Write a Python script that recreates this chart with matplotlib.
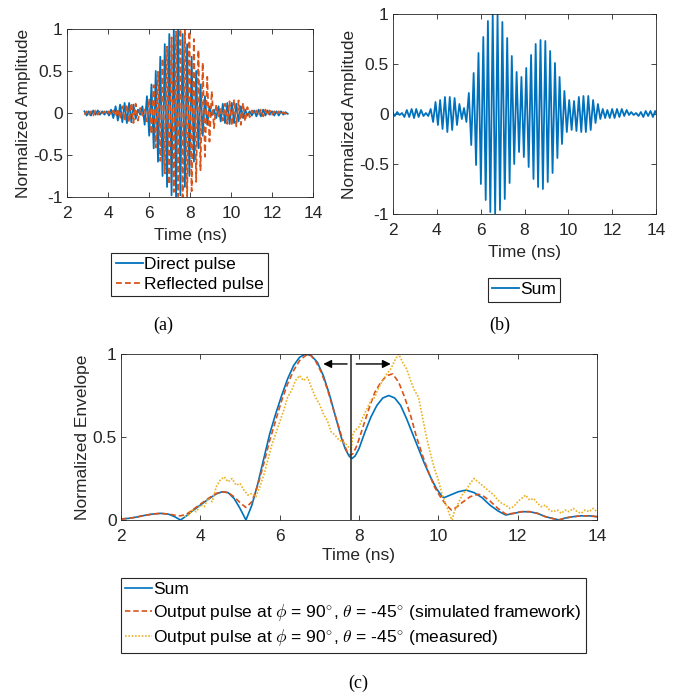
import matplotlib
matplotlib.use("Agg")
import matplotlib.pyplot as plt

# ---------------- data ----------------
# Panel (a): extrema of the direct and reflected pulses (time in ns)
a_t = [2.85, 2.96, 3.06, 3.17, 3.28, 3.39, 3.50, 3.61, 3.72, 3.83, 3.94, 4.05,
       4.15, 4.26, 4.37, 4.48, 4.59, 4.70, 4.81, 4.92, 5.03, 5.14, 5.24, 5.35,
       5.46, 5.57, 5.68, 5.79, 5.90, 6.01, 6.12, 6.23, 6.33, 6.44, 6.55, 6.66,
       6.77, 6.88, 6.99, 7.10, 7.21, 7.32, 7.42, 7.53, 7.64, 7.75, 7.86, 7.97,
       8.08, 8.19, 8.30, 8.41, 8.51, 8.62, 8.73, 8.84, 8.95, 9.06, 9.17, 9.28,
       9.39, 9.50, 9.60, 9.71, 9.82, 9.93, 10.04, 10.15, 10.26, 10.37, 10.48, 10.59,
       10.69, 10.80, 10.91, 11.02, 11.13, 11.24, 11.35, 11.46, 11.57, 11.68, 11.78, 11.89,
       12.00, 12.11, 12.22, 12.33, 12.44, 12.55, 12.66, 12.77]
direct_v = [0.02, -0.03, 0.02, -0.03, 0.03, -0.02, 0.03, -0.02, 0.02, -0.02, 0.02, -0.03,
            0.04, -0.06, 0.08, -0.09, 0.10, -0.11, 0.12, -0.12, 0.12, -0.11, 0.10, -0.07,
            0.04, -0.02, 0.08, -0.14, 0.20, -0.27, 0.34, -0.42, 0.50, -0.58, 0.67, -0.75,
            0.82, -0.88, 0.94, -0.98, 1.00, -1.00, 1.00, -0.98, 0.94, -0.88, 0.82, -0.75,
            0.67, -0.58, 0.50, -0.42, 0.34, -0.27, 0.20, -0.14, 0.08, -0.03, 0.04, -0.06,
            0.08, -0.10, 0.11, -0.12, 0.12, -0.13, 0.12, -0.12, 0.11, -0.10, 0.08, -0.06,
            0.04, -0.03, 0.02, -0.03, 0.03, -0.04, 0.04, -0.04, 0.04, -0.03, 0.03, -0.02,
            0.02, -0.03, 0.02, -0.03, 0.02, -0.02, 0.01, -0.01]
reflected_v = [-0.02, 0.02, -0.03, 0.02, -0.03, 0.03, -0.02, 0.02, -0.01, 0.02, -0.02, 0.02,
               -0.02, 0.03, -0.04, 0.05, -0.07, 0.08, -0.09, 0.10, -0.11, 0.12, -0.12, 0.11,
               -0.09, 0.06, -0.03, 0.04, -0.10, 0.17, -0.25, 0.33, -0.41, 0.49, -0.57, 0.65,
               -0.72, 0.79, -0.85, 0.90, -0.94, 0.97, -0.99, 1.00, -1.00, 1.00, -0.99, 0.97,
               -0.93, 0.88, -0.82, 0.75, -0.68, 0.60, -0.52, 0.43, -0.34, 0.26, -0.18, 0.10,
               -0.04, 0.06, -0.09, 0.11, -0.13, 0.14, -0.15, 0.16, -0.16, 0.15, -0.14, 0.12,
               -0.10, 0.07, -0.05, 0.03, -0.02, 0.03, -0.03, 0.04, -0.04, 0.04, -0.03, 0.03,
               -0.02, 0.02, -0.02, 0.02, -0.02, 0.01, -0.01, 0.01]

# Panel (b): extrema of the summed pulse
b_t = [1.97, 2.08, 2.19, 2.30, 2.41, 2.52, 2.63, 2.74, 2.85, 2.96, 3.06, 3.17,
       3.28, 3.39, 3.50, 3.61, 3.72, 3.83, 3.94, 4.05, 4.15, 4.26, 4.37, 4.48,
       4.59, 4.70, 4.81, 4.92, 5.03, 5.14, 5.24, 5.35, 5.46, 5.57, 5.68, 5.79,
       5.90, 6.01, 6.12, 6.23, 6.33, 6.44, 6.55, 6.66, 6.77, 6.88, 6.99, 7.10,
       7.21, 7.32, 7.42, 7.53, 7.64, 7.75, 7.86, 7.97, 8.08, 8.19, 8.30, 8.41,
       8.51, 8.62, 8.73, 8.84, 8.95, 9.06, 9.17, 9.28, 9.39, 9.50, 9.60, 9.71,
       9.82, 9.93, 10.04, 10.15, 10.26, 10.37, 10.48, 10.59, 10.69, 10.80, 10.91, 11.02,
       11.13, 11.24, 11.35, 11.46, 11.57, 11.68, 11.78, 11.89, 12.00, 12.11, 12.22, 12.33,
       12.44, 12.55, 12.66, 12.77, 12.87, 12.98, 13.09, 13.20, 13.31, 13.42, 13.53, 13.64,
       13.75, 13.86, 13.96, 14.07]
sum_v = [0.02, -0.02, 0.02, -0.01, 0.01, -0.03, 0.04, -0.03, 0.05, -0.04, 0.05, -0.03,
         0.04, -0.02, 0.01, -0.02, 0.05, -0.08, 0.12, -0.11, 0.14, -0.15, 0.17, -0.18,
         0.17, -0.16, 0.16, -0.11, 0.10, -0.05, 0.06, -0.08, 0.21, -0.31, 0.41, -0.51,
         0.61, -0.70, 0.77, -0.86, 0.93, -0.98, 1.00, -1.00, 0.99, -0.96, 0.92, -0.85,
         0.76, -0.69, 0.58, -0.50, 0.42, -0.38, 0.37, -0.43, 0.46, -0.53, 0.59, -0.65,
         0.70, -0.73, 0.74, -0.75, 0.73, -0.68, 0.63, -0.59, 0.51, -0.44, 0.37, -0.30,
         0.23, -0.18, 0.14, -0.16, 0.13, -0.17, 0.17, -0.18, 0.18, -0.18, 0.18, -0.16,
         0.14, -0.09, 0.10, -0.05, 0.05, -0.04, 0.04, -0.04, 0.05, -0.04, 0.05, -0.03,
         0.05, -0.02, 0.04, -0.01, 0.02, -0.01, 0.01, -0.02, 0.02, -0.03, 0.03, -0.02,
         0.03, -0.03, 0.03, -0.02]

# Panel (c): envelopes
env_sum_t = [2.0, 2.2, 2.4, 2.6, 2.8, 3.0, 3.2, 3.35, 3.5, 3.65, 3.8, 4.0, 4.2, 4.4,
             4.55, 4.7, 4.85, 5.0, 5.15, 5.3, 5.45, 5.6, 5.75, 5.9, 6.05, 6.2, 6.35,
             6.5, 6.65, 6.8, 6.95, 7.1, 7.25, 7.4, 7.55, 7.65, 7.75, 7.82, 7.9, 8.0,
             8.15, 8.3, 8.45, 8.6, 8.75, 8.9, 9.05, 9.2, 9.35, 9.5, 9.65, 9.8, 9.95,
             10.1, 10.15, 10.3, 10.5, 10.7, 10.9, 11.1, 11.3, 11.5, 11.7, 11.9, 12.1,
             12.3, 12.5, 12.7, 12.9, 13.05, 13.2, 13.4, 13.6, 13.8, 14.0]
env_sum_v = [0.006, 0.01, 0.018, 0.028, 0.036, 0.04, 0.035, 0.02, 0.0, 0.025, 0.055, 0.09,
             0.125, 0.157, 0.17, 0.165, 0.13, 0.07, 0.0, 0.09, 0.22, 0.37, 0.52, 0.64,
             0.75, 0.85, 0.93, 0.98, 1.0, 0.99, 0.95, 0.87, 0.76, 0.63, 0.50, 0.43, 0.385,
             0.37, 0.385, 0.43, 0.53, 0.62, 0.69, 0.735, 0.75, 0.735, 0.69, 0.61, 0.52,
             0.43, 0.34, 0.26, 0.19, 0.14, 0.135, 0.15, 0.17, 0.18, 0.165, 0.135, 0.09,
             0.055, 0.03, 0.04, 0.05, 0.05, 0.04, 0.02, 0.008, 0.0, 0.012, 0.02, 0.025,
             0.025, 0.02]

env_sim_t = [2.0, 2.2, 2.4, 2.6, 2.8, 3.0, 3.2, 3.4, 3.5, 3.65, 3.8, 4.0, 4.2, 4.4,
             4.55, 4.7, 4.85, 5.0, 5.15, 5.3, 5.45, 5.6, 5.75, 5.9, 6.05, 6.2, 6.35,
             6.5, 6.65, 6.75, 6.9, 7.05, 7.2, 7.35, 7.5, 7.62, 7.72, 7.78, 7.85, 7.95,
             8.1, 8.25, 8.4, 8.55, 8.7, 8.85, 9.0, 9.15, 9.3, 9.45, 9.6, 9.75, 9.9,
             10.05, 10.2, 10.33, 10.45, 10.6, 10.8, 11.0, 11.1, 11.3, 11.5, 11.7, 11.9,
             12.1, 12.3, 12.5, 12.7, 12.9, 13.05, 13.2, 13.4, 13.6, 13.8, 14.0]
env_sim_v = [0.006, 0.01, 0.018, 0.028, 0.036, 0.04, 0.036, 0.027, 0.025, 0.035, 0.06, 0.095,
             0.13, 0.16, 0.17, 0.165, 0.14, 0.105, 0.075, 0.11, 0.21, 0.34, 0.48, 0.60,
             0.72, 0.82, 0.90, 0.96, 0.99, 1.0, 0.96, 0.89, 0.79, 0.67, 0.55, 0.46, 0.40,
             0.39, 0.40, 0.45, 0.56, 0.67, 0.77, 0.83, 0.87, 0.88, 0.83, 0.74, 0.63,
             0.50, 0.39, 0.29, 0.20, 0.14, 0.09, 0.06, 0.075, 0.105, 0.14, 0.155, 0.15,
             0.115, 0.07, 0.035, 0.04, 0.05, 0.05, 0.04, 0.02, 0.008, 0.002, 0.012, 0.02,
             0.025, 0.025, 0.02]

env_meas_t = [3.6, 3.7, 3.8, 3.9, 4.0, 4.1, 4.2, 4.3, 4.4, 4.5, 4.6, 4.7, 4.8, 4.9,
              5.0, 5.1, 5.2, 5.3, 5.4, 5.5, 5.6, 5.7, 5.8, 5.9, 6.0, 6.1, 6.2, 6.3,
              6.4, 6.5, 6.6, 6.7, 6.8, 6.9, 7.0, 7.1, 7.2, 7.3, 7.4, 7.5, 7.6, 7.7,
              7.8, 7.85, 7.9, 8.0, 8.1, 8.2, 8.3, 8.4, 8.5, 8.6, 8.7, 8.8, 8.9, 9.0,
              9.1, 9.2, 9.3, 9.4, 9.5, 9.6, 9.7, 9.8, 9.9, 10.0, 10.1, 10.2, 10.3,
              10.35, 10.4, 10.5, 10.6, 10.7, 10.8, 10.9, 11.0, 11.1, 11.2, 11.3, 11.4,
              11.5, 11.6, 11.7, 11.8, 11.9, 12.0, 12.1, 12.2, 12.3, 12.4, 12.5, 12.6,
              12.7, 12.8, 12.9, 13.0, 13.1, 13.2, 13.3, 13.4, 13.5, 13.6, 13.7, 13.8,
              13.9, 14.0]
env_meas_v = [0.02, 0.03, 0.06, 0.05, 0.09, 0.08, 0.13, 0.11, 0.20, 0.24, 0.26, 0.23,
              0.25, 0.21, 0.22, 0.18, 0.15, 0.16, 0.14, 0.20, 0.27, 0.36, 0.45, 0.52,
              0.59, 0.66, 0.74, 0.78, 0.84, 0.87, 0.84, 0.86, 0.80, 0.74, 0.70, 0.64,
              0.60, 0.53, 0.51, 0.48, 0.47, 0.45, 0.42, 0.52, 0.54, 0.56, 0.62, 0.67,
              0.72, 0.74, 0.80, 0.84, 0.88, 0.91, 0.96, 1.00, 0.95, 0.91, 0.84, 0.78,
              0.74, 0.62, 0.50, 0.40, 0.31, 0.24, 0.15, 0.09, 0.02, 0.0, 0.05, 0.10,
              0.15, 0.18, 0.22, 0.25, 0.23, 0.21, 0.19, 0.17, 0.15, 0.12, 0.10, 0.09,
              0.07, 0.08, 0.11, 0.13, 0.15, 0.12, 0.13, 0.10, 0.08, 0.09, 0.06, 0.05,
              0.06, 0.04, 0.06, 0.05, 0.07, 0.05, 0.04, 0.06, 0.05, 0.07, 0.05]

x_ticks = [2, 4, 6, 8, 10, 12, 14]
amp_ticks = [-1, -0.5, 0, 0.5, 1]
env_ticks = [0, 0.5, 1]
marker_time = 7.8

# ---------------- style ----------------
BLUE = "#0072BD"
ORANGE = "#D95319"
YELLOW = "#EDB120"
AXC = "#262626"
FS = 12.5

plt.rcParams.update({
    "font.family": ["Liberation Sans", "DejaVu Sans"],
    "font.size": FS,
    "axes.unicode_minus": False,
    "mathtext.fontset": "cm",
    "axes.edgecolor": AXC,
    "axes.linewidth": 0.6,
    "xtick.color": AXC,
    "ytick.color": AXC,
    "xtick.direction": "in",
    "ytick.direction": "in",
    "xtick.top": True,
    "ytick.right": True,
    "xtick.major.size": 3.5,
    "ytick.major.size": 3.5,
    "xtick.major.width": 0.6,
    "ytick.major.width": 0.6,
    "xtick.major.pad": 6.5,
    "ytick.major.pad": 3,
})

W, H = 679, 692
fig = plt.figure(figsize=(W / 100, H / 100), dpi=100)


def px_axes(l, t, r, b):
    return fig.add_axes([l / W, 1 - b / H, (r - l) / W, (b - t) / H])


def fmt(v):
    return ("%g" % v)


def legend_kw():
    return dict(frameon=True, fancybox=False, framealpha=1, edgecolor=AXC,
                borderpad=0.25, labelspacing=0.25, handlelength=1.55,
                handletextpad=0.05, borderaxespad=0, fontsize=FS)


# ---------------- panel (a) ----------------
axa = px_axes(67, 29, 313, 197)
la1, = axa.plot(a_t, direct_v, color=BLUE, lw=1.3)
la2, = axa.plot(a_t, reflected_v, color=ORANGE, lw=1.3, ls=(0, (3.2, 1.8)))
axa.set_xlim(2, 14)
axa.set_ylim(-1, 1)
axa.set_xticks(x_ticks)
axa.set_yticks(amp_ticks)
axa.set_yticklabels([fmt(v) for v in amp_ticks])
axa.set_xlabel("Time (ns)", color=AXC, labelpad=5)
axa.set_ylabel("Normalized Amplitude", color=AXC, labelpad=1)
leg = fig.legend([la1, la2], ["Direct pulse", "Reflected pulse"],
                 loc="upper center", bbox_to_anchor=(189.5 / W, 1 - 253 / H), **legend_kw())
leg.get_frame().set_linewidth(0.8)

# ---------------- panel (b) ----------------
axb = px_axes(393, 14, 656, 214)
lb1, = axb.plot(b_t, sum_v, color=BLUE, lw=1.3)
axb.set_xlim(2, 14)
axb.set_ylim(-1, 1)
axb.set_xticks(x_ticks)
axb.set_yticks(amp_ticks)
axb.set_yticklabels([fmt(v) for v in amp_ticks])
axb.set_xlabel("Time (ns)", color=AXC, labelpad=5)
axb.set_ylabel("Normalized Amplitude", color=AXC, labelpad=1)
leg = fig.legend([lb1], ["Sum"], loc="upper center",
                 bbox_to_anchor=(524 / W, 1 - 278 / H), **legend_kw())
leg.get_frame().set_linewidth(0.8)

# ---------------- panel (c) ----------------
axc = px_axes(121, 354, 597, 520)
lc1, = axc.plot(env_sum_t, env_sum_v, color=BLUE, lw=1.2)
lc2, = axc.plot(env_sim_t, env_sim_v, color=ORANGE, lw=1.2, ls=(0, (3.2, 1.8)))
lc3, = axc.plot(env_meas_t, env_meas_v, color=YELLOW, lw=1.2, ls=(0, (1, 1)))
axc.axvline(marker_time, color="#333333", lw=1.2)
axc.annotate("", xy=(7.1, 0.94), xytext=(7.7, 0.94),
             arrowprops=dict(arrowstyle="-|>", color="k", lw=1.0, mutation_scale=12,
                             shrinkA=0, shrinkB=0))
axc.annotate("", xy=(8.8, 0.94), xytext=(7.93, 0.94),
             arrowprops=dict(arrowstyle="-|>", color="k", lw=1.0, mutation_scale=12,
                             shrinkA=0, shrinkB=0))
axc.set_xlim(2, 14)
axc.set_ylim(0, 1)
axc.set_xticks(x_ticks)
axc.set_yticks(env_ticks)
axc.set_yticklabels([fmt(v) for v in env_ticks])
axc.set_xlabel("Time (ns)", color=AXC, labelpad=3)
axc.set_ylabel("Normalized Envelope", color=AXC, labelpad=2)
labels_c = ["Sum",
            r"Output pulse at $\phi$ = 90$^{\circ}$, $\theta$ = -45$^{\circ}$ (simulated framework)",
            r"Output pulse at $\phi$ = 90$^{\circ}$, $\theta$ = -45$^{\circ}$ (measured)"]
leg = fig.legend([lc1, lc2, lc3], labels_c, loc="upper left",
                 bbox_to_anchor=(121 / W, 1 - 578 / H), **legend_kw())
leg.get_frame().set_linewidth(0.8)

# ---------------- captions ----------------
cap_kw = dict(family=["Liberation Serif", "DejaVu Serif"], fontsize=13,
              ha="center", va="center", color="black")
fig.text(163 / W, 1 - 325 / H, "(a)", **cap_kw)
fig.text(500 / W, 1 - 325 / H, "(b)", **cap_kw)
fig.text(358 / W, 1 - 683 / H, "(c)", **cap_kw)

fig.savefig("out.png", dpi=100)
